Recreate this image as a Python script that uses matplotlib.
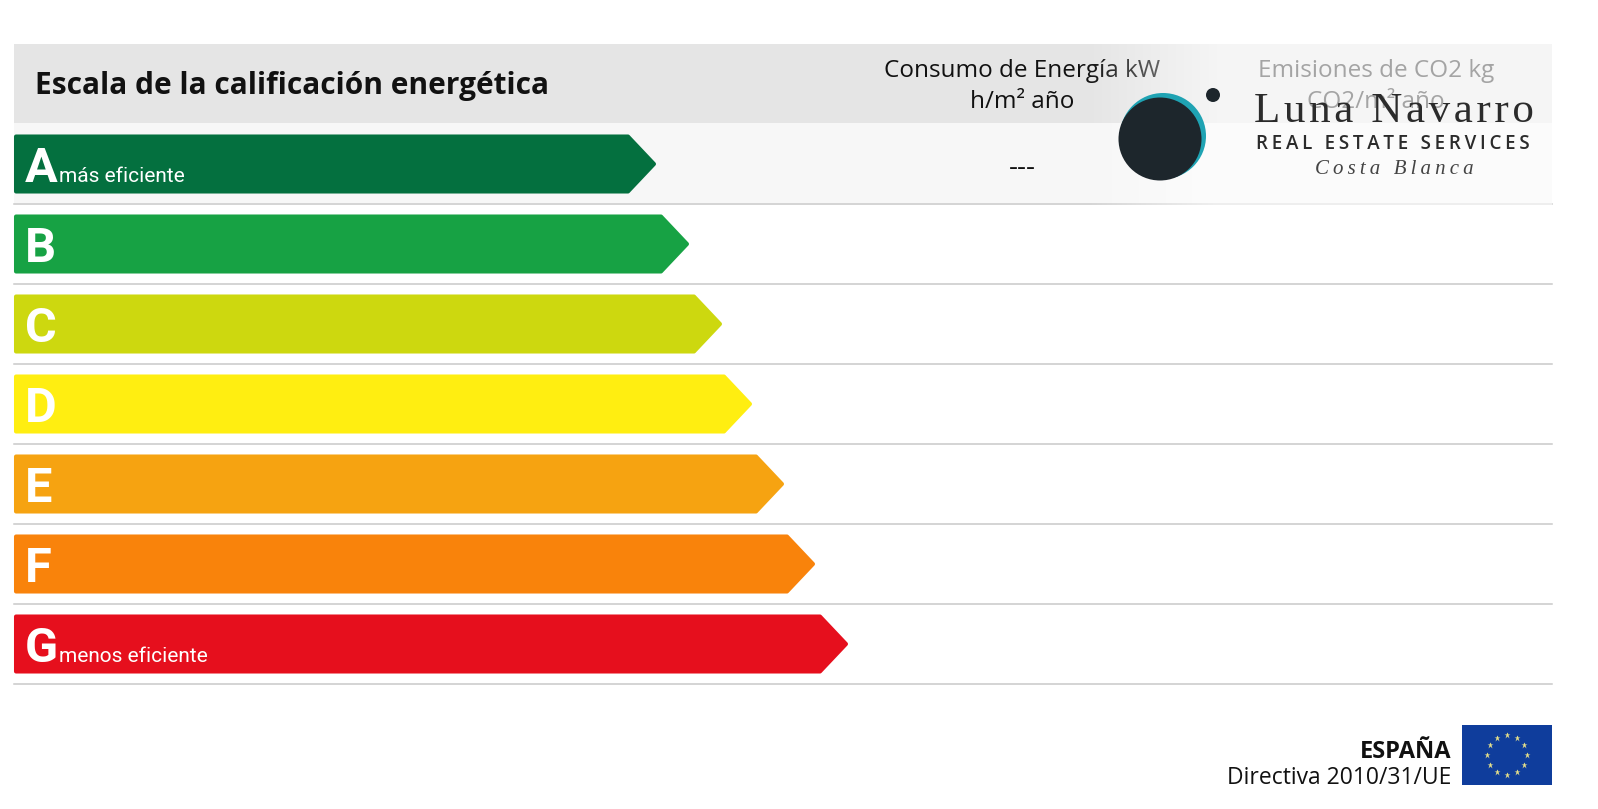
import numpy as np
import matplotlib
matplotlib.use('Agg')
import matplotlib.pyplot as plt
from matplotlib.patches import Polygon, Rectangle, Circle

# Energy scale, bar length in pixels of the original picture
letters = ['A', 'B', 'C', 'D', 'E', 'F', 'G']
lengths = [642, 675, 708, 738, 770, 801, 834]
colors = ['#04703f', '#17a244', '#cdd80f', '#ffee11', '#f6a311', '#f9830b', '#e60f1d']
notes = ['más eficiente', '', '', '', '', '', 'menos eficiente']
energy_values = ['---', '', '', '', '', '', '']

title = 'Escala de la calificación energética'
col1 = 'Consumo de Energía kW\nh/m² año'
col2 = 'Emisiones de CO2 kg\nCO2/m² año'

W, H = 1598, 809
left, right = 14, 1552
row0, row_h, bar_h = 134.5, 80, 59
tip = 28

fig = plt.figure(figsize=(W / 100, H / 100), dpi=100)
ax = fig.add_axes([0, 0, 1, 1])
ax.set_xlim(0, W)
ax.set_ylim(H, 0)
ax.axis('off')

narrow = ['Liberation Sans Narrow', 'Roboto', 'DejaVu Sans']
sans = ['Open Sans', 'DejaVu Sans']

# header and first row background
ax.add_patch(Rectangle((left, 44), right - left, 79, color='#e5e5e5', lw=0, zorder=1))
ax.add_patch(Rectangle((left, 123), right - left, 80, color='#f7f7f7', lw=0, zorder=1))

ax.text(35, 94, title, family=sans, weight='bold', fontsize=21.5, color='#111111', zorder=3)
ax.text(1022, 77, col1.split('\n')[0], family=sans, fontsize=17.5, ha='center', color='#111111', zorder=3)
ax.text(1022, 108, col1.split('\n')[1], family=sans, fontsize=17.5, ha='center', color='#111111', zorder=3)
ax.text(1376, 77, col2.split('\n')[0], family=sans, fontsize=17.5, ha='center', color='#111111', zorder=3)
ax.text(1376, 108, col2.split('\n')[1], family=sans, fontsize=17.5, ha='center', color='#111111', zorder=3)

for i, (letter, length, c, note, val) in enumerate(zip(letters, lengths, colors, notes, energy_values)):
    top = row0 + i * row_h
    bot = top + bar_h
    mid = (top + bot) / 2
    x1 = left + length
    # lw gives the rounded corners, so the outline is inset by 2 px
    pts = [(left + 2, top + 2), (x1 - tip, top + 2), (x1 - 2, mid), (x1 - tip, bot - 2), (left + 2, bot - 2)]
    ax.add_patch(Polygon(pts, closed=True, fc=c, ec=c, lw=2.9, joinstyle='round', zorder=2))
    ax.plot([left, right], [top + 69.5, top + 69.5], color='#c9c9c9', lw=1.1, zorder=1.5)
    ax.text(25, top + 47.5, letter, family=narrow, weight='bold', fontsize=35, color='white', zorder=3)
    if note:
        ax.text(59, top + 47.5, note, family=narrow, fontsize=15, color='white', zorder=3)
    if val:
        ax.text(1022, mid + 11, val, family=sans, fontsize=20, ha='center', color='#111111', zorder=3)

# white glow behind the logo, fades the header on its way right
glow = np.ones((2, 256, 4))
glow[:, :, 3] = np.clip(np.linspace(0, 1, 256) * 2.2, 0, 0.62)
ax.imshow(glow, extent=[1085, right, 205, 44], aspect='auto', zorder=4, interpolation='bilinear')
ax.set_xlim(0, W)
ax.set_ylim(H, 0)

# logo
ax.add_patch(Circle((1163, 136), 43, color='#1fa3b3', lw=0, zorder=5))
ax.add_patch(Circle((1160, 139), 41.5, color='#1d262c', lw=0, zorder=6))
ax.add_patch(Circle((1213, 95), 7, color='#1d262c', lw=0, zorder=6))
ax.text(1394, 122, '\u200a'.join('Luna Navarro'), family=['Liberation Serif', 'DejaVu Serif'], fontsize=31,
        ha='center', color='#2b2b2b', zorder=7)
ax.text(1393, 149, '\u2009'.join('REAL ESTATE SERVICES'), family=sans, weight='semibold', fontsize=13.5,
        ha='center', color='#2b2b2b', zorder=7)
ax.text(1394, 174, '\u2009'.join('Costa Blanca'), family=['Liberation Serif', 'DejaVu Serif'], style='italic',
        fontsize=15, ha='center', color='#444444', zorder=7)

# footer
ax.text(1451, 758, 'ESPAÑA', family=sans, weight='bold', fontsize=17, ha='right', color='#111111', zorder=3)
ax.text(1451, 784, 'Directiva 2010/31/UE', family=sans, fontsize=16.5, ha='right', color='#111111', zorder=3)
ax.add_patch(Rectangle((1462, 725), 90, 60, color='#0f3d9c', lw=0, zorder=2))
ang = np.deg2rad(np.arange(12) * 30)
ax.plot(1507 + 20 * np.cos(ang), 755 + 20 * np.sin(ang), ls='', marker='*', ms=5, mfc='#e6e08a', mec='none', zorder=3)

fig.savefig('out.png', dpi=100, facecolor='white')
